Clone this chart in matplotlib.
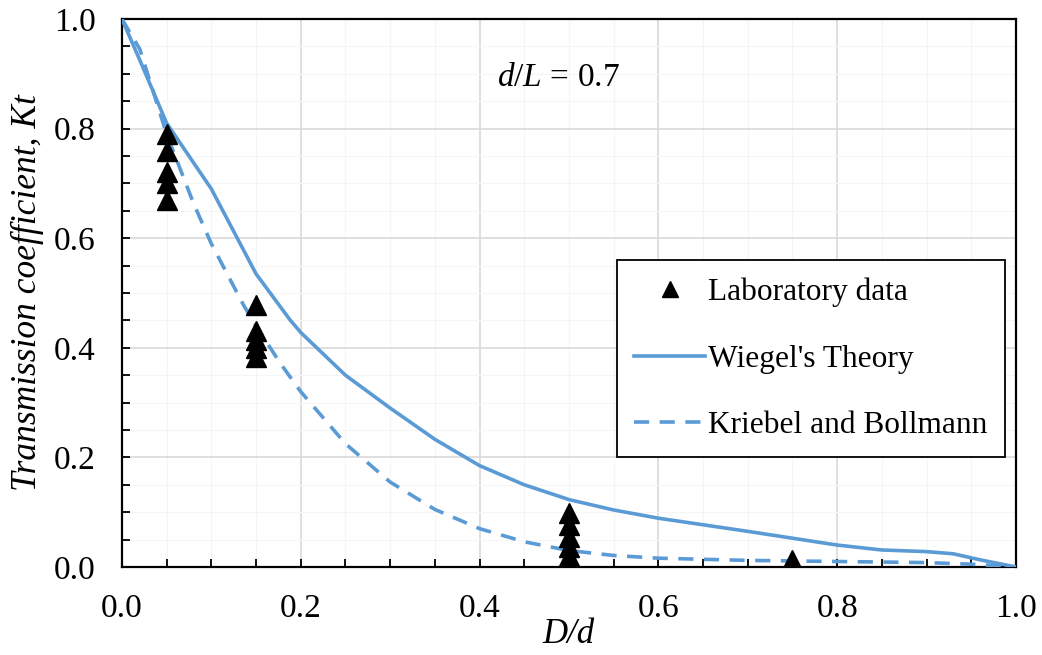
import matplotlib
matplotlib.use('Agg')
import matplotlib.pyplot as plt
from matplotlib.ticker import MultipleLocator

plt.rcParams['font.family'] = 'Liberation Serif'
plt.rcParams['mathtext.fontset'] = 'custom'
plt.rcParams['mathtext.rm'] = 'Liberation Serif'
plt.rcParams['mathtext.it'] = 'Liberation Serif:italic'

# laboratory measurements
lab_x = [0.05, 0.05, 0.05, 0.05, 0.05,
         0.15, 0.15, 0.15, 0.15, 0.15,
         0.5, 0.5, 0.5, 0.5, 0.5,
         0.75, 0.75]
lab_kt = [0.79, 0.76, 0.72, 0.70, 0.67,
          0.478, 0.43, 0.414, 0.40, 0.383,
          0.099, 0.077, 0.055, 0.036, 0.02,
          0.012, 0.005]

# Wiegel's theory curve
wiegel_x = [0.0, 0.02, 0.05, 0.1, 0.15, 0.188, 0.2, 0.25, 0.3, 0.35, 0.4,
            0.45, 0.5, 0.55, 0.6, 0.7, 0.8, 0.85, 0.9, 0.93, 0.96, 1.0]
wiegel_kt = [1.0, 0.925, 0.81, 0.69, 0.535, 0.451, 0.428, 0.35, 0.29, 0.233, 0.185,
             0.15, 0.123, 0.104, 0.089, 0.065, 0.04, 0.031, 0.028, 0.024, 0.013, 0.0]

# Kriebel and Bollmann curve
kb_x = [0.0, 0.02, 0.05, 0.08, 0.1, 0.136, 0.15, 0.177, 0.2, 0.25, 0.3, 0.35,
        0.4, 0.45, 0.5, 0.55, 0.6, 0.7, 0.8, 0.9, 0.95, 1.0]
kb_kt = [1.0, 0.945, 0.79, 0.664, 0.59, 0.478, 0.44, 0.372, 0.32, 0.225, 0.155, 0.105,
         0.07, 0.046, 0.03, 0.021, 0.016, 0.012, 0.01, 0.008, 0.005, 0.0]

blue = '#5B9BD5'

fig = plt.figure(figsize=(10.42, 6.55), dpi=100)
ax = fig.add_axes([0.117, 0.1344, 0.858, 0.8366])

ax.plot(wiegel_x, wiegel_kt, color=blue, lw=2.6, label="Wiegel's Theory", zorder=3)
ax.plot(kb_x, kb_kt, color=blue, lw=2.6, ls=(0, (4.2, 2.9)), label='Kriebel and Bollmann', zorder=3)
ax.plot(lab_x, lab_kt, ls='none', marker='^', ms=14, color='black',
        label='Laboratory data', zorder=4)

ax.set_xlim(0, 1)
ax.set_ylim(0, 1)
ax.xaxis.set_major_locator(MultipleLocator(0.2))
ax.yaxis.set_major_locator(MultipleLocator(0.2))
ax.xaxis.set_minor_locator(MultipleLocator(0.05))
ax.yaxis.set_minor_locator(MultipleLocator(0.05))
ax.grid(which='major', color='#d9d9d9', lw=1.2)
ax.grid(which='minor', color='#f5f5f5', lw=0.8)
ax.set_axisbelow(True)
ax.tick_params(which='major', direction='in', length=6, width=1.3, labelsize=24, pad=19)
ax.tick_params(which='minor', direction='in', length=6, width=1.3)
ax.xaxis.set_major_formatter(plt.FuncFormatter(lambda v, p: f'{v:.1f}'))
ax.yaxis.set_major_formatter(plt.FuncFormatter(lambda v, p: f'{v:.1f}'))
for s in ax.spines.values():
    s.set_linewidth(1.6)
    s.set_color('black')

ax.set_xlabel('D/d', fontsize=25, style='italic', labelpad=-4)
ax.set_ylabel('Transmission coefficient, Kt', fontsize=25.5, style='italic', labelpad=7)

ax.text(0.488, 0.892, r'$\mathit{d/L}$ = 0.7', transform=ax.transAxes, fontsize=24,
        ha='center', va='center')

handles, labels = ax.get_legend_handles_labels()
order = [2, 0, 1]
leg = ax.legend([handles[i] for i in order], [labels[i] for i in order],
                loc='upper left', bbox_to_anchor=(0.5537, 0.560), fontsize=22.6,
                frameon=True, fancybox=False, edgecolor='black', framealpha=1,
                borderpad=0.55, labelspacing=1.2, handlelength=2.25, handletextpad=0.1,
                borderaxespad=0, markerscale=0.8)
leg.get_frame().set_linewidth(1.3)

fig.savefig('out.png', dpi=100)
